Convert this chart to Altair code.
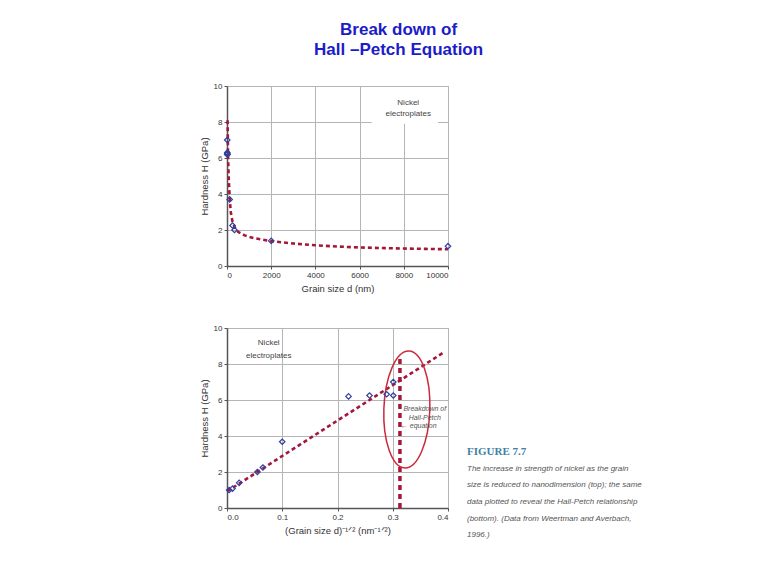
import altair as alt
import pandas as pd

# ---------------- data ----------------
# top panel: hardness vs grain size
top_d = [11, 11, 12, 15, 21, 120, 250, 340, 2000, 10000]
top_H = [7.0, 6.2, 6.3, 6.25, 6.2, 3.7, 2.25, 2.0, 1.4, 1.1]
curve_d = [25, 50, 80, 120, 170, 250, 350, 500, 800, 1200, 2000, 3000, 4000, 5000, 6000, 7000, 8000, 9000, 10000]
curve_H = [8.1, 6.0, 4.8, 3.8, 3.0, 2.45, 2.15, 1.9, 1.7, 1.55, 1.38, 1.25, 1.15, 1.08, 1.03, 1.0, 0.97, 0.95, 0.93]

# bottom panel: hardness vs d^-1/2
bot_x = [0.004, 0.01, 0.022, 0.055, 0.065, 0.1, 0.22, 0.258, 0.289, 0.301, 0.301]
bot_H = [1.0, 1.08, 1.4, 2.0, 2.25, 3.68, 6.2, 6.25, 6.32, 7.0, 6.25]
fit_x = [0.0, 0.39]
fit_H = [0.92, 8.6]
breakdown_x = [0.313, 0.313]
breakdown_H = [0.0, 8.3]
ellipse_center = [0.3255, 5.47]

# annotation texts
label_lines = ["Nickel", "electroplates"]
top_label_pos = [8200, 9.08, 8.43]
top_box = [6550, 9550, 7.9, 9.95]
bot_label_pos = [0.0755, 9.18, 8.44]
break_lines = ["Breakdown of", "Hall-Petch", "← equation"]
break_x = [0.358, 0.358, 0.347]
break_y = [5.51, 5.01, 4.54]

title_lines = ["Break down of", "Hall –Petch Equation"]
fig_label = "FIGURE 7.7"
caption_lines = [
    "The increase in strength of nickel as the grain",
    "size is reduced to nanodimension (top); the same",
    "data plotted to reveal the Hall-Petch relationship",
    "(bottom). (Data from Weertman and Averbach,",
    "1996.)",
]

RED = "#a3173a"
BLUE = "#34409a"
W, H = 221, 180

axis_common = dict(
    grid=True, gridColor="#b5b5b5", gridWidth=1,
    domainColor="#555555", domainWidth=1.5,
    tickColor="#555555", tickSize=3,
    labelFont="Liberation Sans", labelFontSize=8, labelColor="#333333", labelPadding=2,
    labelOverlap=False,
    titleFont="Liberation Sans", titleFontSize=9.5, titleColor="#333333",
    titleFontWeight="normal",
)

# ---------------- top chart ----------------
df_top = pd.DataFrame({"d": top_d, "H": top_H})
df_curve = pd.DataFrame({"d": curve_d, "H": curve_H})

xs_top = alt.Scale(domain=[0, 10000], nice=False)
ys = alt.Scale(domain=[0, 10], nice=False)
x_top_axis = alt.Axis(values=[0, 2000, 4000, 6000, 8000, 10000], tickCount=12, format="d",
                      title="Grain size d (nm)", titlePadding=4, **axis_common)
y_axis = alt.Axis(values=[0, 2, 4, 6, 8, 10], tickCount=12, title="Hardness H (GPa)", titlePadding=4, **axis_common)

box = alt.Chart(pd.DataFrame({"x": [top_box[0]], "x2": [top_box[1]], "y": [top_box[2]], "y2": [top_box[3]]})).mark_rect(
    fill="white", stroke=None
).encode(
    x=alt.X("x:Q", scale=xs_top, axis=x_top_axis), x2="x2:Q",
    y=alt.Y("y:Q", scale=ys, axis=y_axis), y2="y2:Q",
)

curve = alt.Chart(df_curve).mark_line(color=RED, strokeWidth=2.6, strokeDash=[4, 3]).encode(
    x=alt.X("d:Q", scale=xs_top), y=alt.Y("H:Q", scale=ys)
)
pts_top = alt.Chart(df_top).mark_point(shape="diamond", filled=False, color=BLUE, size=30, strokeWidth=1.2, opacity=1).encode(
    x=alt.X("d:Q", scale=xs_top), y=alt.Y("H:Q", scale=ys)
)
lab_top = alt.Chart(pd.DataFrame({"t": label_lines, "x": [top_label_pos[0]] * 2, "y": top_label_pos[1:]})).mark_text(
    font="Liberation Sans", fontSize=8, color="#444444"
).encode(x=alt.X("x:Q", scale=xs_top), y=alt.Y("y:Q", scale=ys), text="t:N")

top = alt.layer(box, curve, pts_top, lab_top).properties(width=W, height=H)

# ---------------- bottom chart ----------------
df_bot = pd.DataFrame({"x": bot_x, "H": bot_H})
xs_bot = alt.Scale(domain=[0, 0.4], nice=False)
x_bot_axis = alt.Axis(values=[0, 0.1, 0.2, 0.3, 0.4], tickCount=12, format=".1f",
                      title="(Grain size d)⁻¹ᐟ² (nm⁻¹ᐟ²)", titlePadding=4, **axis_common)

fit = alt.Chart(pd.DataFrame({"x": fit_x, "H": fit_H})).mark_line(color=RED, strokeWidth=2.6, strokeDash=[4, 3]).encode(
    x=alt.X("x:Q", scale=xs_bot, axis=x_bot_axis), y=alt.Y("H:Q", scale=ys, axis=y_axis)
)
vline = alt.Chart(pd.DataFrame({"x": breakdown_x, "H": breakdown_H})).mark_line(color=RED, strokeWidth=3.5, strokeDash=[5, 4]).encode(
    x=alt.X("x:Q", scale=xs_bot), y=alt.Y("H:Q", scale=ys)
)
ellipse = alt.Chart(pd.DataFrame({"x": [ellipse_center[0]], "H": [ellipse_center[1]]})).mark_point(
    shape="M0,-1A0.393,1,0,1,1,0,1A0.393,1,0,1,1,0,-1Z",
    filled=False, color="#cc2a3c", strokeWidth=1.5, size=117 * 117, opacity=1, angle=2,
).encode(x=alt.X("x:Q", scale=xs_bot), y=alt.Y("H:Q", scale=ys))
pts_bot = alt.Chart(df_bot).mark_point(shape="diamond", filled=False, color=BLUE, size=30, strokeWidth=1.2, opacity=1).encode(
    x=alt.X("x:Q", scale=xs_bot), y=alt.Y("H:Q", scale=ys)
)
lab_bot = alt.Chart(pd.DataFrame({"t": label_lines, "x": [bot_label_pos[0]] * 2, "y": bot_label_pos[1:]})).mark_text(
    font="Liberation Sans", fontSize=8, color="#444444"
).encode(x=alt.X("x:Q", scale=xs_bot), y=alt.Y("y:Q", scale=ys), text="t:N")
brk = alt.Chart(pd.DataFrame({"t": break_lines, "x": break_x, "y": break_y})).mark_text(
    font="Liberation Sans", fontSize=7, fontStyle="italic", color="#555555"
).encode(x=alt.X("x:Q", scale=xs_bot), y=alt.Y("y:Q", scale=ys), text="t:N")

one = alt.Data(values=[{"a": 1}])
fig = alt.Chart(one).mark_text(
    font="Liberation Serif", fontSize=11, fontWeight="bold", color="#3f7fa6", align="left", baseline="middle"
).encode(x=alt.value(240), y=alt.value(123.5), text=alt.value(fig_label))
cap = alt.Chart(one).mark_text(
    font="Liberation Sans", fontSize=8, fontStyle="italic", color="#555555",
    align="left", baseline="middle", lineHeight=16.7,
).encode(x=alt.value(240), y=alt.value(140.5), text=alt.value(caption_lines))

bottom = alt.layer(fit, vline, ellipse, pts_bot, lab_bot, brk, fig, cap).properties(width=W, height=H)

chart = alt.vconcat(top, bottom, spacing=30).properties(
    title=alt.TitleParams(
        text=title_lines, font="Liberation Sans", fontSize=17, fontWeight="bold", color="#1c1cc8",
        anchor="start", align="center", dx=200, lineHeight=19.5, offset=23,
    ),
    padding={"left": 190, "top": 13, "right": 5, "bottom": 5},
    background="white",
).configure_view(stroke="#b5b5b5", strokeWidth=1)

chart.save("out.html", embed_options={"renderer": "svg", "actions": False})
